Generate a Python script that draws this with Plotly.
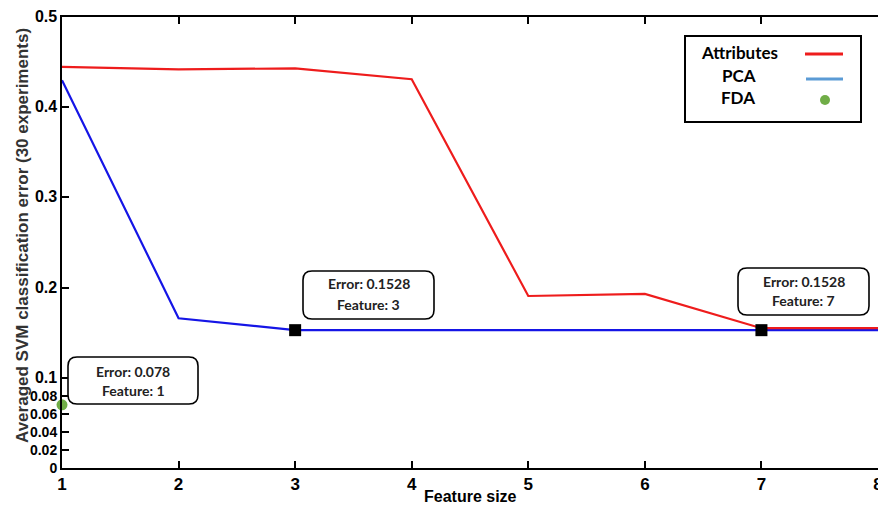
import plotly.graph_objects as go

# ---- data ----
feature_size = [1, 2, 3, 4, 5, 6, 7, 8]
attributes_err = [0.4446, 0.442, 0.443, 0.431, 0.1907, 0.193, 0.155, 0.155]
pca_err = [0.430, 0.166, 0.1528, 0.1528, 0.1528, 0.1528, 0.1528, 0.1528]
fda_x = [1]
fda_err = [0.070]
marked_x = [3, 7]
marked_err = [0.1528, 0.1528]

ytick_vals = [0, 0.02, 0.04, 0.06, 0.08, 0.1, 0.2, 0.3, 0.4, 0.5]
ytick_text = ["0", "0.02", "0.04", "0.06", "0.08", "0.1", "0.2", "0.3", "0.4", "0.5"]
xtick_vals = [1, 2, 3, 4, 5, 6, 7, 8]
xtick_text = ["1", "2", "3", "4", "5", "6", "7", "8"]

box_texts = [("Error: 0.078", "Feature: 1"),
             ("Error: 0.1528", "Feature: 3"),
             ("Error: 0.1528", "Feature: 7")]

W, H = 878, 508
ML, MR, MT, MB = 62, 0, 17, 40
PW, PH = W - ML - MR, H - MT - MB


def px(x):
    return (x - ML) / PW


def py(y):
    return (H - MB - y) / PH


def rrect(x0, y0, x1, y1, r=9):
    rx, ry = r / PW, r / PH
    X0, X1 = px(x0), px(x1)
    Y0, Y1 = py(y0), py(y1)
    return (f"M {X0+rx},{Y0} L {X1-rx},{Y0} Q {X1},{Y0} {X1},{Y0-ry} "
            f"L {X1},{Y1+ry} Q {X1},{Y1} {X1-rx},{Y1} "
            f"L {X0+rx},{Y1} Q {X0},{Y1} {X0},{Y1+ry} "
            f"L {X0},{Y0-ry} Q {X0},{Y0} {X0+rx},{Y0} Z")


fig = go.Figure()
fig.add_trace(go.Scatter(x=feature_size, y=pca_err, mode="lines",
                         line=dict(color="#1515e6", width=2.2), name="PCA",
                         showlegend=False))
fig.add_trace(go.Scatter(x=feature_size, y=attributes_err, mode="lines",
                         line=dict(color="#ee1c1c", width=2.2), name="Attributes",
                         showlegend=False))
fig.add_trace(go.Scatter(x=fda_x, y=fda_err, mode="markers",
                         marker=dict(color="#70ad47", size=11), name="FDA",
                         showlegend=False, cliponaxis=False))
fig.add_trace(go.Scatter(x=marked_x, y=marked_err, mode="markers",
                         marker=dict(color="black", size=12, symbol="square"),
                         showlegend=False))

shapes = []
annotations = []

boxes = [(68, 357, 198, 404, 371, 390),
         (303, 271, 434, 319, 283, 304),
         (738, 268, 869, 315, 281, 300)]
for (x0, y0, x1, y1, l1, l2), (t1, t2) in zip(boxes, box_texts):
    shapes.append(dict(type="path", xref="paper", yref="paper", path=rrect(x0, y0, x1, y1),
                       line=dict(color="black", width=1.6), fillcolor="white", layer="above"))
    cx = (x0 + x1) / 2
    for yy, t in ((l1, t1), (l2, t2)):
        annotations.append(dict(xref="paper", yref="paper", x=px(cx), y=py(yy),
                                text=f"<b>{t}</b>", showarrow=False, xanchor="center",
                                yanchor="middle",
                                font=dict(family="Lato", size=14, color="#222")))

# legend box
shapes.append(dict(type="rect", xref="paper", yref="paper", x0=px(685), x1=px(861),
                   y0=py(122), y1=py(36), line=dict(color="black", width=2),
                   fillcolor="white", layer="above"))
shapes.append(dict(type="line", xref="paper", yref="paper", x0=px(805), x1=px(843),
                   y0=py(54), y1=py(54), line=dict(color="#ee1c1c", width=3), layer="above"))
shapes.append(dict(type="line", xref="paper", yref="paper", x0=px(806), x1=px(843),
                   y0=py(79), y1=py(79), line=dict(color="#5b9bd5", width=3), layer="above"))
shapes.append(dict(type="circle", xref="paper", yref="paper", x0=px(820), x1=px(830),
                   y0=py(105), y1=py(95), line=dict(color="#70ad47", width=0),
                   fillcolor="#70ad47", layer="above"))
for (cx, cy, t) in ((739, 52, "Attributes"), (739, 75, "PCA"), (738, 98, "FDA")):
    annotations.append(dict(xref="paper", yref="paper", x=px(cx), y=py(cy),
                            text=f"<b>{t}</b>", showarrow=False, xanchor="center",
                            yanchor="middle",
                            font=dict(family="Lato", size=17, color="black")))

annotations.append(dict(xref="paper", yref="paper", x=px(22), y=py(236),
                        text="<b>Averaged SVM classification error (30 experiments)</b>",
                        textangle=-90, showarrow=False, xanchor="center", yanchor="middle",
                        font=dict(family="Liberation Sans", size=17, color="#333")))
annotations.append(dict(xref="paper", yref="paper", x=px(470), y=py(497),
                        text="<b>Feature size</b>", showarrow=False, xanchor="center",
                        yanchor="middle",
                        font=dict(family="Liberation Sans", size=16, color="black")))

ytext = []
for v, t in zip(ytick_vals, ytick_text):
    if v > 0.09:
        ytext.append(f"<b><span style='font-size:16px'>{t}</span></b>")
    else:
        ytext.append(f"<b>{t}</b>")

fig.update_layout(
    width=W, height=H,
    margin=dict(l=ML, r=MR, t=MT, b=MB, autoexpand=False),
    paper_bgcolor="white", plot_bgcolor="white",
    shapes=shapes, annotations=annotations,
    xaxis=dict(range=[1, 8], tickvals=xtick_vals, ticktext=[f"<b>{t}</b>" for t in xtick_text],
               ticks="inside", ticklen=7, tickwidth=2, automargin=False,
               tickcolor="black", showline=True, linecolor="black", linewidth=2,
               mirror="ticks", showgrid=False, zeroline=False, ticklabeloverflow="allow",
               tickfont=dict(family="Liberation Sans", size=17, color="black")),
    yaxis=dict(range=[0, 0.5], tickvals=ytick_vals, ticktext=ytext, automargin=False,
               ticks="inside", ticklen=7, tickwidth=2, tickcolor="black",
               showline=True, linecolor="black", linewidth=2, mirror=False,
               showgrid=False, zeroline=False, ticklabeloverflow="allow",
               tickfont=dict(family="Liberation Sans", size=14, color="black")),
)

fig.write_html("out.html")
